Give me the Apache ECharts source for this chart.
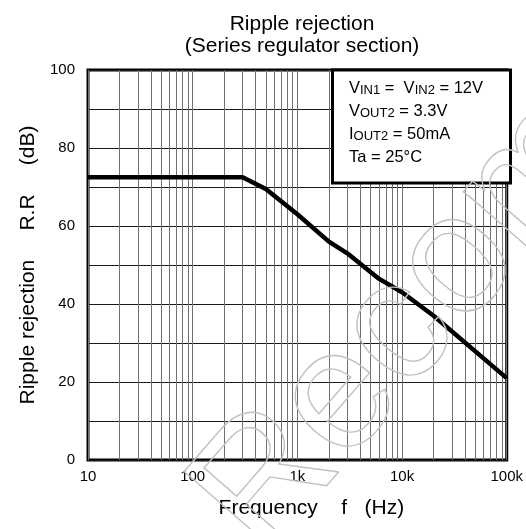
<!DOCTYPE html>
<html><head><meta charset="utf-8">
<script src="https://cdn.jsdelivr.net/npm/echarts@6/dist/echarts.min.js"></script>
<style>html,body{margin:0;padding:0;background:#fff}#c{width:526px;height:529px}</style>
</head><body><div id="c"></div>
<script>
const freq = [10, 300, 500, 1000, 2000, 3000, 6000, 10000, 20000, 100000];
const rr = [72.5, 72.5, 69.5, 63, 56, 53, 46.5, 43, 37, 21];
const minorX = [20,30,40,50,60,70,80,90,200,300,400,500,600,700,800,900,2000,3000,4000,5000,6000,7000,8000,9000,20000,30000,40000,50000,60000,70000,80000,90000];
const xTickLabels = {10:'10',100:'100',1000:'1k',10000:'10k',100000:'100k'};
const conditions = [
  '{n|V}{s|IN1}{n| =  V}{s|IN2}{n| = 12V}',
  '{n|V}{s|OUT2}{n| = 3.3V}',
  '{n|I}{s|OUT2}{n| = 50mA}',
  '{n|Ta = 25°C}'
];
const FONT = 'Liberation Sans, Arial, sans-serif';
const chart = echarts.init(document.getElementById('c'), null, {renderer:'canvas'});
const condText = conditions.map((t,i)=>({
  type:'text', x:349, y:88 + i*23, z:102,
  style:{text:t, verticalAlign:'middle', rich:{n:{fontSize:16.5,fontFamily:FONT,fill:'#000',verticalAlign:'bottom',lineHeight:18},s:{fontSize:13,fontFamily:FONT,fill:'#000',verticalAlign:'bottom',lineHeight:18}}}
}));
chart.setOption({
  animation:false,
  title:{text:'Ripple rejection\n(Series regulator section)', left:297, top:8, textAlign:'center',
    textStyle:{fontSize:21, fontWeight:'normal', fontFamily:FONT, color:'#000', lineHeight:22}},
  grid:{left:88, right:15, top:70, bottom:69, show:true, borderColor:'#000', borderWidth:3, backgroundColor:'transparent'},
  xAxis:{type:'log', logBase:10, min:10, max:100000,
    name:'Frequency    f   (Hz)', nameLocation:'middle', nameGap:38,
    nameTextStyle:{fontSize:21, fontFamily:FONT, color:'#000', padding:[0,0,0,28]},
    axisLine:{show:false}, axisTick:{show:false},
    axisLabel:{fontSize:15, fontFamily:FONT, color:'#000', margin:9, formatter:v=>xTickLabels[Math.round(v)]||''},
    splitLine:{show:true, lineStyle:{color:'#707070', width:1}}},
  yAxis:{type:'value', min:0, max:100, interval:10,
    name:'Ripple rejection     R.R     (dB)', nameLocation:'middle', nameGap:46,
    nameTextStyle:{fontSize:21, fontFamily:FONT, color:'#000'},
    axisLine:{show:false}, axisTick:{show:false},
    axisLabel:{fontSize:15, fontFamily:FONT, color:'#000', margin:13, formatter:v=>(v%20===0?String(v):'')},
    splitLine:{show:true, lineStyle:{color:'#1a1a1a', width:1}}},
  series:[
    {type:'line', data:[], markLine:{silent:true, symbol:'none', label:{show:false},
      lineStyle:{color:'#707070', width:1, type:'solid'},
      data:minorX.map(v=>({xAxis:v}))}},
    {type:'line', data:freq.map((f,i)=>[f, rr[i]]), showSymbol:false, symbol:'none',
      lineStyle:{color:'#000', width:4.5}, z:5}
  ],
  graphic:[
    {type:'rect', x:332.5, y:70, z:101, shape:{width:178, height:113},
      style:{fill:'#fff', stroke:'#000', lineWidth:3}},
    ...condText,
    {type:'text', x:228, y:528, rotation:0.855, z:200, silent:true,
      style:{text:'Recommended', fontSize:170, fontFamily:FONT, verticalAlign:'middle', align:'left',
        fill:'rgba(0,0,0,0)', stroke:'#c2c2c2', lineWidth:1.4}}
  ]
});
</script></body></html>
